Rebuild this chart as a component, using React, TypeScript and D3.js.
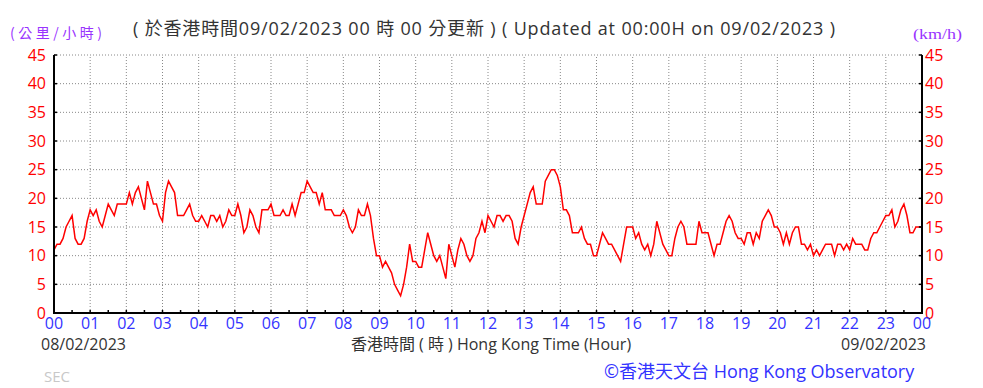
import React from "react";
import * as d3 from "d3";

// 5-minute wind speed readings (km/h), one array per hour, 08/02/2023 00:00 -> 09/02/2023 00:00
const hour00 = [11, 12, 12, 13, 15, 16, 17, 13, 12, 12, 13, 16];
const hour01 = [18, 17, 18, 16, 15, 17, 19, 18, 17, 19, 19, 19];
const hour02 = [19, 21, 19, 21, 22, 20, 18, 23, 21, 19, 19, 17];
const hour03 = [16, 21, 23, 22, 21, 17, 17, 17, 18, 19, 17, 16];
const hour04 = [16, 17, 16, 15, 17, 17, 16, 17, 15, 16, 18, 17];
const hour05 = [17, 19, 17, 14, 15, 18, 17, 15, 14, 18, 18, 18];
const hour06 = [19, 17, 17, 17, 18, 17, 17, 19, 17, 19, 21, 21];
const hour07 = [23, 22, 21, 21, 19, 21, 18, 18, 18, 17, 17, 17];
const hour08 = [18, 17, 15, 14, 15, 18, 17, 17, 19, 17, 13, 10];
const hour09 = [10, 8, 9, 8, 7, 5, 4, 3, 5, 8, 12, 9];
const hour10 = [9, 8, 8, 11, 14, 12, 10, 9, 10, 8, 6, 12];
const hour11 = [10, 8, 11, 13, 12, 10, 9, 10, 13, 14, 16, 14];
const hour12 = [17, 16, 15, 17, 17, 16, 17, 17, 16, 13, 12, 15];
const hour13 = [17, 19, 21, 22, 19, 19, 19, 23, 24, 25, 25, 24];
const hour14 = [22, 18, 18, 17, 14, 14, 14, 15, 13, 12, 12, 10];
const hour15 = [10, 12, 14, 13, 12, 12, 11, 10, 9, 12, 15, 15];
const hour16 = [15, 13, 14, 12, 11, 12, 10, 12, 16, 14, 12, 11];
const hour17 = [10, 10, 13, 15, 16, 15, 12, 12, 12, 12, 16, 14];
const hour18 = [14, 14, 12, 10, 12, 12, 14, 16, 17, 16, 14, 13];
const hour19 = [13, 12, 14, 14, 12, 14, 13, 16, 17, 18, 17, 15];
const hour20 = [15, 14, 12, 14, 12, 14, 15, 15, 12, 12, 11, 12];
const hour21 = [10, 11, 10, 11, 12, 12, 12, 10, 12, 12, 11, 12];
const hour22 = [11, 13, 12, 12, 12, 11, 11, 13, 14, 14, 15, 16];
const hour23 = [17, 17, 18, 15, 16, 18, 19, 17, 14, 14, 15, 15];
const lastReading = [15];

const hourLabels = ["00", "01", "02", "03", "04", "05", "06", "07", "08", "09", "10", "11",
  "12", "13", "14", "15", "16", "17", "18", "19", "20", "21", "22", "23", "00"];
const speedTicks = [0, 5, 10, 15, 20, 25, 30, 35, 40, 45];

const speeds = [
  ...hour00, ...hour01, ...hour02, ...hour03, ...hour04, ...hour05,
  ...hour06, ...hour07, ...hour08, ...hour09, ...hour10, ...hour11,
  ...hour12, ...hour13, ...hour14, ...hour15, ...hour16, ...hour17,
  ...hour18, ...hour19, ...hour20, ...hour21, ...hour22, ...hour23, ...lastReading,
];

const W = 983, H = 388;
const margin = { left: 54, right: 61, top: 55, bottom: 75 };

const App = () => {
  const x = d3.scaleLinear().domain([0, 24]).range([margin.left, W - margin.right]);
  const y = d3.scaleLinear().domain([0, 45]).range([H - margin.bottom, margin.top]);

  const line = d3.line<number>()
    .x((d, i) => x(i / 12))
    .y(d => y(d));

  const halfHours = d3.range(0, 24.5, 0.5);
  const grey = "#333";
  const sans = "'Open Sans', 'Noto Sans CJK TC', sans-serif";

  return (
    <svg width={W} height={H} style={{ position: "absolute", left: 0, top: 0, background: "#fff" }}>
      {/* titles */}
      <text x={10} y={38} fill="#9933ff" fontSize={14} textLength={92} lengthAdjust="spacing"
        fontFamily="'Noto Sans CJK TC', sans-serif">(公里/小時)</text>
      <text x={133} y={35} fill={grey} fontSize={18} textLength={702} lengthAdjust="spacing" fontFamily={sans}>
        ( 於香港時間09/02/2023 00 時 00 分更新 ) ( Updated at 00:00H on 09/02/2023 )
      </text>
      <text x={913} y={39} fill="#9933ff" fontSize={15} textLength={49} lengthAdjust="spacingAndGlyphs"
        fontFamily="'Liberation Serif', serif">(km/h)</text>

      {/* grid */}
      {speedTicks.filter(t => t > 0).map(t => (
        <line key={"gy" + t} x1={x(0)} x2={x(24)} y1={y(t)} y2={y(t)}
          stroke="#888" strokeWidth={1} strokeDasharray="1,2" />
      ))}
      {d3.range(1, 24).map(h => (
        <line key={"gx" + h} x1={x(h)} x2={x(h)} y1={y(0)} y2={y(45)}
          stroke="#888" strokeWidth={1} strokeDasharray="1,2" />
      ))}

      {/* data */}
      <path d={line(speeds) || ""} fill="none" stroke="#ff0000" strokeWidth={1.5} />

      {/* axes */}
      <line x1={x(0)} x2={x(0)} y1={y(45)} y2={y(0)} stroke="#000" strokeWidth={2} />
      <line x1={x(24)} x2={x(24)} y1={y(45)} y2={y(0)} stroke="#000" strokeWidth={2} />
      <line x1={x(0) - 1} x2={x(24) + 1} y1={y(0)} y2={y(0)} stroke="#000" strokeWidth={2} />
      {speedTicks.map(t => (
        <g key={"ty" + t}>
          <line x1={x(0)} x2={x(0) + 3} y1={y(t)} y2={y(t)} stroke="#000" strokeWidth={1.5} />
          <line x1={x(24)} x2={x(24) - 3} y1={y(t)} y2={y(t)} stroke="#000" strokeWidth={1.5} />
          <text x={x(0) - 8} y={y(t)} dy="0.35em" textAnchor="end" fill="#ff0000" fontSize={16} fontFamily={sans}>{t}</text>
          <text x={x(24) + 3} y={y(t)} dy="0.35em" fill="#ff0000" fontSize={16} fontFamily={sans}>{t}</text>
        </g>
      ))}
      {halfHours.map(h => (
        <line key={"tx" + h} x1={x(h)} x2={x(h)} y1={y(0)} y2={y(0) - 3} stroke="#000" strokeWidth={1.5} />
      ))}
      {hourLabels.map((l, i) => (
        <text key={"lx" + i} x={x(i)} y={y(0) + 16} textAnchor="middle" fill="#3333ff" fontSize={16} fontFamily={sans}>{l}</text>
      ))}

      {/* footer */}
      <text x={41} y={350} fill={grey} fontSize={16} fontFamily={sans}>08/02/2023</text>
      <text x={926} y={350} textAnchor="end" fill={grey} fontSize={16} fontFamily={sans}>09/02/2023</text>
      <text x={491} y={350} textAnchor="middle" fill={grey} fontSize={16} fontFamily={sans}>香港時間 ( 時 ) Hong Kong Time (Hour)</text>
      <text x={44} y={382} fill="#c8c8c8" fontSize={15} fontFamily={sans}>SEC</text>
      <text x={604} y={378} fill="#3333ff" fontSize={18} fontFamily={sans}>©香港天文台 Hong Kong Observatory</text>
    </svg>
  );
};

export default App;
